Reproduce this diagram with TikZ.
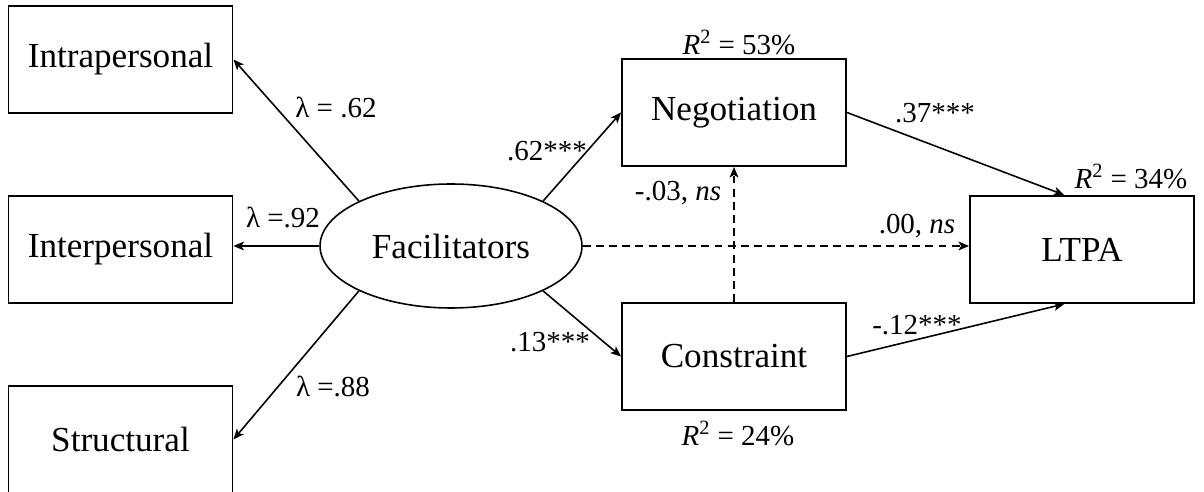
\documentclass[tikz,border=0pt]{standalone}
\usepackage{fontspec}
\setmainfont{Liberation Serif}
\usetikzlibrary{shapes.geometric,arrows.meta}
\tikzset{
  var/.style={draw,line width=1.1pt,minimum width=4.48cm,minimum height=2.14cm,font=\fontsize{20}{24}\selectfont},
  latent/.style={draw,ellipse,line width=0.9pt,minimum width=5.24cm,minimum height=2.48cm,inner sep=0pt,font=\fontsize{20}{24}\selectfont},
  arr/.style={-{Stealth[length=6pt,width=5pt,inset=1.5pt]},line width=0.9pt},
  nsarr/.style={-{Stealth[length=6pt,width=5pt,inset=1.5pt]},line width=0.9pt,dash pattern=on 4.5pt off 3pt},
  coef/.style={font=\fontsize{16.5}{20}\selectfont,inner sep=0pt}
}
\newcommand{\rsq}[1]{\textit{R}\textsuperscript{2} = #1\%}
\begin{document}
\begin{tikzpicture}[x=0.02cm,y=-0.02cm]
        \useasboundingbox (0,0) rectangle (1204,492);
        % indicators
        \node[var] (intra) at (120.5,59.5) {Intrapersonal};
        \node[var] (inter) at (120.5,249.5) {Interpersonal};
        \node[var] (struct) at (120.5,439.5) {Structural};
        \node[latent] (facil) at (451,246) {Facilitators};
        % mediators and outcome
        \node[var] (negot) at (734,112.5) {Negotiation};
        \node[var] (constr) at (734,356.5) {Constraint};
        \node[var] (ltpa) at (1082,249.5) {LTPA};
        \draw[arr] (facil.154) -- (intra.east);
        \draw[arr] (facil.west) -- (facil.west -| inter.east);
        \draw[arr] (facil.206) -- (struct.east);
        \draw[arr] (facil.26) -- (negot.west);
        \draw[arr] (facil.334) -- (constr.west);
        \draw[arr] (negot.east) -- (ltpa.108);
        \draw[arr] (constr.east) -- (ltpa.252);
        \draw[nsarr] (facil.east) -- (facil.east -| ltpa.west);
        \draw[nsarr] (constr.north) -- (negot.south);
        % coefficients
        \node[coef] (l1) at (336,108) {λ = .62};
        \node[coef] (l2) at (283,218) {λ =.92};
        \node[coef] (l3) at (333,387) {λ =.88};
        \node[coef] (b1) at (547,151) {.62***};
        \node[coef] (b2) at (550,342) {.13***};
        \node[coef] (b3) at (678,193) {-.03, \textit{ns}};
        \node[coef] (b4) at (917,226) {.00, \textit{ns}};
        \node[coef] (b5) at (935,113) {.37***};
        \node[coef] (b6) at (917,325) {-.12***};
        \node[coef] (r1) at (739,42) {\rsq{53}};
        \node[coef] (r2) at (738,433) {\rsq{24}};
        \node[coef] (r3) at (1131,176) {\rsq{34}};
    \end{tikzpicture}
\end{document}
